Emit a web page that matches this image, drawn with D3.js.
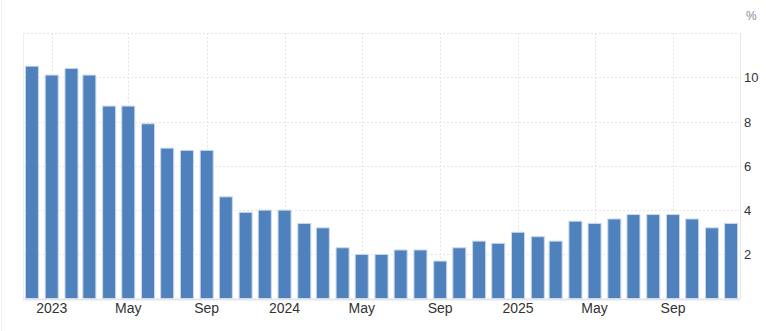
<!DOCTYPE html>
<html>
<head>
<meta charset="utf-8">
<script src="https://cdn.jsdelivr.net/npm/d3@7"></script>
<style>
  body { margin: 0; background: #fff; }
  svg { display: block; font-family: Arial, "Liberation Sans", sans-serif; }
</style>
</head>
<body>
<svg width="766" height="331"></svg>
<script>
// monthly values, Dec 2022 .. Dec 2025
const months = [
  "2022-12", "2023-01", "2023-02", "2023-03", "2023-04", "2023-05", "2023-06",
  "2023-07", "2023-08", "2023-09", "2023-10", "2023-11", "2023-12",
  "2024-01", "2024-02", "2024-03", "2024-04", "2024-05", "2024-06",
  "2024-07", "2024-08", "2024-09", "2024-10", "2024-11", "2024-12",
  "2025-01", "2025-02", "2025-03", "2025-04", "2025-05", "2025-06",
  "2025-07", "2025-08", "2025-09", "2025-10", "2025-11", "2025-12"
];
const values = [
  10.5, 10.1, 10.4, 10.1, 8.7, 8.7, 7.9, 6.8, 6.7, 6.7, 4.6, 3.9, 4.0,
  4.0, 3.4, 3.2, 2.3, 2.0, 2.0, 2.2, 2.2, 1.7, 2.3, 2.6, 2.5,
  3.0, 2.8, 2.6, 3.5, 3.4, 3.6, 3.8, 3.8, 3.8, 3.6, 3.2, 3.4
];
const yTicks = [2, 4, 6, 8, 10, 12];

const parseMonth = d3.timeParse("%Y-%m");
const data = months.map((m, i) => ({ date: parseMonth(m), value: values[i] }));

const svg = d3.select("svg");
const margin = { left: 23, right: 26, top: 33, bottom: 32 };
const width = +svg.attr("width");
const height = +svg.attr("height");
const x0 = margin.left, x1 = width - margin.right;
const y0 = height - margin.bottom, y1 = margin.top;

const xScale = d3.scaleTime()
  .domain([d3.timeDay.offset(data[0].date, -14), d3.timeDay.offset(data[data.length - 1].date, 14)])
  .range([x0, x1]);
const yScale = d3.scaleLinear().domain([0, 12]).range([y0 - 0.3, y1]);

const xTicks = xScale.ticks(d3.timeMonth.every(4));
const fmt = d => d.getMonth() === 0 ? d3.timeFormat("%Y")(d) : d3.timeFormat("%b")(d);

// faint outer frame line
svg.append("line")
  .attr("x1", 1.5).attr("x2", 1.5).attr("y1", 0).attr("y2", height)
  .attr("stroke", "#f2f2f2");

// horizontal grid
svg.append("g").selectAll("line")
  .data(yTicks)
  .join("line")
  .attr("x1", x0).attr("x2", x1)
  .attr("y1", d => Math.round(yScale(d)) + 0.5)
  .attr("y2", d => Math.round(yScale(d)) + 0.5)
  .attr("stroke", "#e6e6e6")
  .attr("stroke-dasharray", "2,2");

// vertical grid
svg.append("g").selectAll("line")
  .data(xTicks)
  .join("line")
  .attr("x1", d => Math.round(xScale(d)) + 0.5)
  .attr("x2", d => Math.round(xScale(d)) + 0.5)
  .attr("y1", y1).attr("y2", y0)
  .attr("stroke", "#e6e6e6")
  .attr("stroke-dasharray", "2,2");

// left border
svg.append("line")
  .attr("x1", x0 + 0.5).attr("x2", x0 + 0.5).attr("y1", y1).attr("y2", y0)
  .attr("stroke", "#eeeeee");

// bars
const barW = 13;
svg.append("g").selectAll("rect")
  .data(data)
  .join("rect")
  .attr("x", d => xScale(d.date) - barW / 2)
  .attr("y", d => yScale(d.value))
  .attr("width", barW)
  .attr("height", d => yScale(0) - yScale(d.value))
  .attr("fill", "#4f81bd")
  .attr("stroke", "#c9d8ec")
  .attr("stroke-width", 1);

// bottom axis line
svg.append("line")
  .attr("x1", x0).attr("x2", x1)
  .attr("y1", y0 + 0.5).attr("y2", y0 + 0.5)
  .attr("stroke", "#e6e6e6")
  .attr("stroke-width", 2);

// right axis line
svg.append("line")
  .attr("x1", x1 + 0.5).attr("x2", x1 + 0.5).attr("y1", y1).attr("y2", y0)
  .attr("stroke", "#e6e6e6");

// x labels
svg.append("g").selectAll("text")
  .data(xTicks)
  .join("text")
  .attr("x", d => xScale(d))
  .attr("y", y0 + 14)
  .attr("text-anchor", "middle")
  .attr("fill", "#333")
  .style("font-size", "14px")
  .text(fmt);

// y labels
svg.append("g").selectAll("text")
  .data(yTicks.filter(d => d < 12))
  .join("text")
  .attr("x", x1 + 4)
  .attr("y", d => yScale(d) + 5)
  .attr("fill", "#333")
  .style("font-size", "13px")
  .text(d => d);

svg.append("text")
  .attr("x", x1 + 6)
  .attr("y", 20)
  .attr("fill", "#7b8aa3")
  .style("font-size", "12px")
  .text("%");
</script>
</body>
</html>
